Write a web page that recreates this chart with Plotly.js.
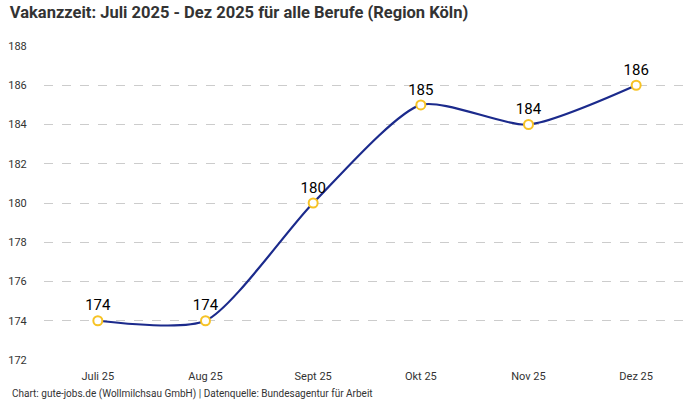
<!DOCTYPE html>
<html>
<head>
<meta charset="utf-8">
<script src="https://cdn.plot.ly/plotly-3.0.1.min.js"></script>
<style>
  html, body { margin: 0; padding: 0; background: #fff; }
  #graphDiv { width: 700px; height: 400px; }
</style>
</head>
<body>
<div id="graphDiv"></div>
<script>
// html tag
const graphDiv = document.getElementById('graphDiv');

// data *********************************************
const months = ['Juli 25', 'Aug 25', 'Sept 25', 'Okt 25', 'Nov 25', 'Dez 25'];
const vakanzTage = [174, 174, 180, 185, 184, 186];
const yTicks = [172, 174, 176, 178, 180, 182, 184, 186, 188];

const fontName = 'Roboto, "Noto Sans", sans-serif';
const lineColor = '#1b2a8c';

Plotly.newPlot(
  graphDiv,
  [
  {
    name: 'Vakanzzeit',
    x: months,
    y: vakanzTage,
    type: 'scatter',
    mode: 'lines+markers+text',
    line: { color: lineColor, width: 2.2, shape: 'spline', smoothing: 0.65 },
    marker: { color: '#ffffff', size: 9, line: { color: '#f7c325', width: 2 } },
    text: vakanzTage.map(String),
    textposition: 'top center',
    textfont: { family: fontName, size: 15, color: '#000000' },
    hoverinfo: 'x+y',
    cliponaxis: false
  }
],
{
  width: 700,
  height: 400,
  margin: { l: 44, r: 10, t: 46, b: 40 },
  paper_bgcolor: '#ffffff',
  plot_bgcolor: '#ffffff',
  showlegend: false,
  font: { family: fontName, size: 11, color: '#333333' },
  title: {
    text: '<b>Vakanzzeit: Juli 2025 - Dez 2025 für alle Berufe (Region Köln)</b>',
    x: 0.014, xanchor: 'left',
    y: 0.985, yanchor: 'top',
    font: { family: fontName, size: 16.5, color: '#333333' }
  },
  xaxis: {
    type: 'category',
    range: [-0.5, 5.5],
    showgrid: false,
    zeroline: false,
    showline: false,
    ticks: 'outside',
    ticklen: 6,
    tickcolor: 'rgba(0,0,0,0)',
    tickfont: { family: fontName, size: 11, color: '#333333' },
    fixedrange: true
  },
  yaxis: {
    range: [172, 188],
    tickvals: yTicks,
    showgrid: true,
    gridcolor: '#cccccc',
    griddash: 'dash',
    gridwidth: 1,
    zeroline: false,
    showline: false,
    ticks: 'outside',
    ticklen: 14,
    tickcolor: 'rgba(0,0,0,0)',
    tickfont: { family: fontName, size: 11, color: '#333333' },
    fixedrange: true
  },
  annotations: [
    {
      text: 'Chart: gute-jobs.de (Wollmilchsau GmbH) | Datenquelle: Bundesagentur für Arbeit',
      xref: 'paper', yref: 'paper',
      x: -0.053, xanchor: 'left',
      y: 0, yanchor: 'top', yshift: -26,
      showarrow: false,
      font: { family: fontName, size: 10, color: '#333333' }
    }
  ]
},
{ displayModeBar: false, staticPlot: true }
);
</script>
</body>
</html>
